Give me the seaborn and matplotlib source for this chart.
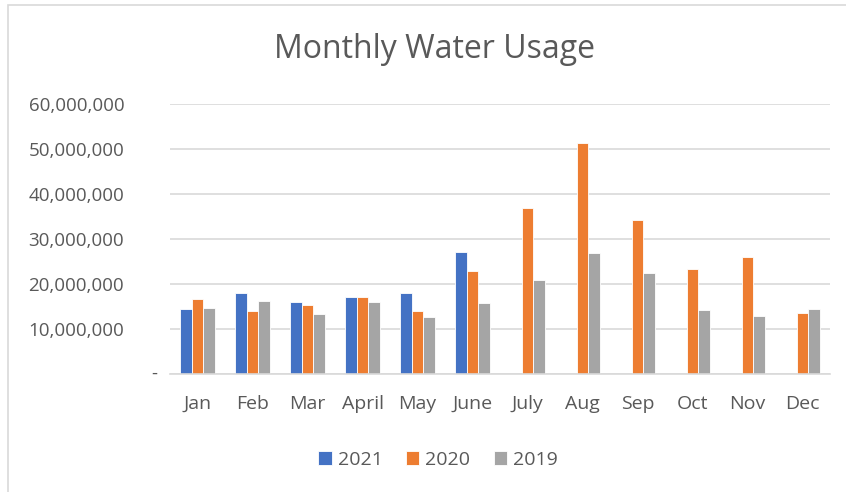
import numpy as np
import pandas as pd
import matplotlib.pyplot as plt
import matplotlib.ticker as mtick
from matplotlib.patches import Rectangle
import seaborn as sns

# Data
months = ['Jan', 'Feb', 'Mar', 'April', 'May', 'June', 'July', 'Aug', 'Sep', 'Oct', 'Nov', 'Dec']
usage_2021 = [14.5e6, 17.9e6, 16.0e6, 17.2e6, 17.9e6, 27.2e6, np.nan, np.nan, np.nan, np.nan, np.nan, np.nan]
usage_2020 = [16.7e6, 13.9e6, 15.3e6, 17.1e6, 14.1e6, 22.8e6, 36.9e6, 51.4e6, 34.2e6, 23.3e6, 26.1e6, 13.5e6]
usage_2019 = [14.6e6, 16.2e6, 13.3e6, 15.9e6, 12.7e6, 15.7e6, 20.8e6, 26.8e6, 22.4e6, 14.2e6, 13.0e6, 14.4e6]
years = ['2021', '2020', '2019']
colors = ['#4472C4', '#ED7D31', '#A5A5A5']

df = pd.DataFrame({'Month': months, '2021': usage_2021, '2020': usage_2020, '2019': usage_2019})
long_df = df.melt(id_vars='Month', value_vars=years, var_name='Year', value_name='Usage')

sns.set_theme(style='white')
plt.rcParams['font.family'] = ['Open Sans', 'DejaVu Sans']
text_color = '#595959'

fig = plt.figure(figsize=(8.46, 4.92), dpi=100)
ax = fig.add_axes([170 / 846, 1 - 374 / 492, 660 / 846, 270 / 492])

sns.barplot(data=long_df, x='Month', y='Usage', hue='Year', hue_order=years,
            palette=colors, width=0.62, edgecolor='white', linewidth=0.6,
            saturation=1, ax=ax)

ax.set_ylim(0, 60e6)
ax.set_yticks(np.arange(0, 60e6 + 1, 10e6))
# zero label is drawn separately, accounting-style dash sits closer to the axis
ax.yaxis.set_major_formatter(mtick.FuncFormatter(lambda x, p: '' if x == 0 else f'{x:,.0f}'))
ax.annotate('-', xy=(0, 0), xycoords=('axes fraction', 'data'), xytext=(-11, 0),
            textcoords='offset points', ha='center', va='center', fontsize=13.5, color=text_color)
ax.grid(axis='y', color='#D9D9D9', linewidth=1.2)
ax.set_axisbelow(True)
for s in ['top', 'right', 'left']:
    ax.spines[s].set_visible(False)
ax.spines['bottom'].set_color('#D9D9D9')
ax.spines['bottom'].set_linewidth(1.2)
ax.tick_params(axis='y', length=0, labelsize=13.5, labelcolor=text_color, pad=33)
ax.tick_params(axis='x', length=0, labelsize=14, labelcolor=text_color, pad=15)
ax.set_xlabel('')
ax.set_ylabel('')

fig.text(434 / 846, 1 - 49 / 492, 'Monthly Water Usage', ha='center', va='center',
         fontsize=23, color=text_color)

ax.legend(loc='center', bbox_to_anchor=(438 / 846, 1 - 460 / 492), bbox_transform=fig.transFigure,
          ncol=3, frameon=False, fontsize=14, labelcolor=text_color,
          handlelength=0.7, handleheight=0.7, handletextpad=0.3, columnspacing=1.2)

# light chart border like the spreadsheet chart area
fig.patches.append(Rectangle((8 / 846, -0.1), 1.1, 1 - 5 / 492 + 0.1, transform=fig.transFigure,
                             fill=False, edgecolor='#D9D9D9', linewidth=1.2))

fig.savefig('out.png', dpi=100)
